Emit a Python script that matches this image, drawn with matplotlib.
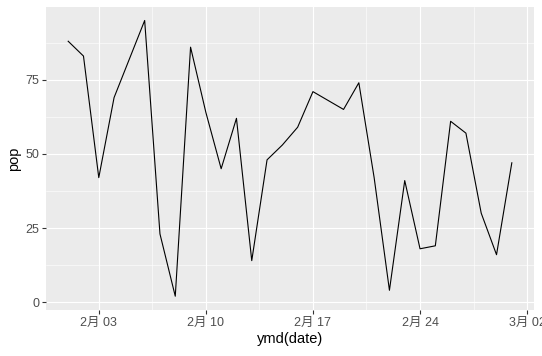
import numpy as np
import pandas as pd
import matplotlib
matplotlib.use('Agg')
import matplotlib.pyplot as plt
import matplotlib.dates as mdates

plt.rcParams['font.family'] = ['Liberation Sans', 'Noto Sans CJK SC', 'DejaVu Sans']

# data
dates = pd.date_range('2020-02-01', '2020-03-01', freq='D')
pop = [88, 83, 42, 69, 82, 95, 23, 2, 86, 64,
       45, 62, 14, 48, 53, 59, 71, 68, 65, 74,
       42, 4, 41, 18, 19, 61, 57, 30, 16, 47]
x_ticks = pd.to_datetime(['2020-02-03', '2020-02-10', '2020-02-17', '2020-02-24', '2020-03-02'])
x_ticklabels = ['2月 03', '2月 10', '2月 17', '2月 24', '3月 02']
y_ticks = [0, 25, 50, 75]

fig = plt.figure(figsize=(5.42, 3.56), dpi=100)
ax = fig.add_axes([46 / 542, 1 - 310 / 356, (534 - 46) / 542, (310 - 6.7) / 356])
ax.set_facecolor('#EBEBEB')

ax.plot(dates, pop, color='black', linewidth=0.8, zorder=3)

ax.set_xticks(mdates.date2num(x_ticks))
ax.set_xticklabels(x_ticklabels)
ax.set_yticks(y_ticks)
ax.set_yticklabels([str(v) for v in y_ticks])

# minor grid halfway between majors
xt = mdates.date2num(x_ticks)
x_minor = list((xt[:-1] + xt[1:]) / 2)
ax.set_xticks(x_minor, minor=True)
ax.set_yticks([12.5, 37.5, 62.5, 87.5], minor=True)

# ggplot-style limits (5% expansion), set after ticks
x0, x1 = mdates.date2num(dates[0]), mdates.date2num(dates[-1])
dx = (x1 - x0) * 0.05
ax.set_xlim(x0 - dx, x1 + dx)
lo, hi = min(pop), max(pop)
dy = (hi - lo) * 0.05
ax.set_ylim(lo - dy, hi + dy)

ax.grid(which='major', color='white', linewidth=0.8)
ax.grid(which='minor', color='white', linewidth=0.4)
ax.set_axisbelow(True)

for s in ax.spines.values():
    s.set_visible(False)

ax.tick_params(which='major', length=3, width=0.8, color='#333333',
               labelcolor='#4D4D4D', labelsize=9, pad=2)
ax.tick_params(which='minor', length=0)

ax.set_xlabel('ymd(date)', fontsize=10.5, color='black', labelpad=2)
ax.set_ylabel('pop', fontsize=10.5, color='black', labelpad=3)

fig.savefig('out.png', dpi=100)
